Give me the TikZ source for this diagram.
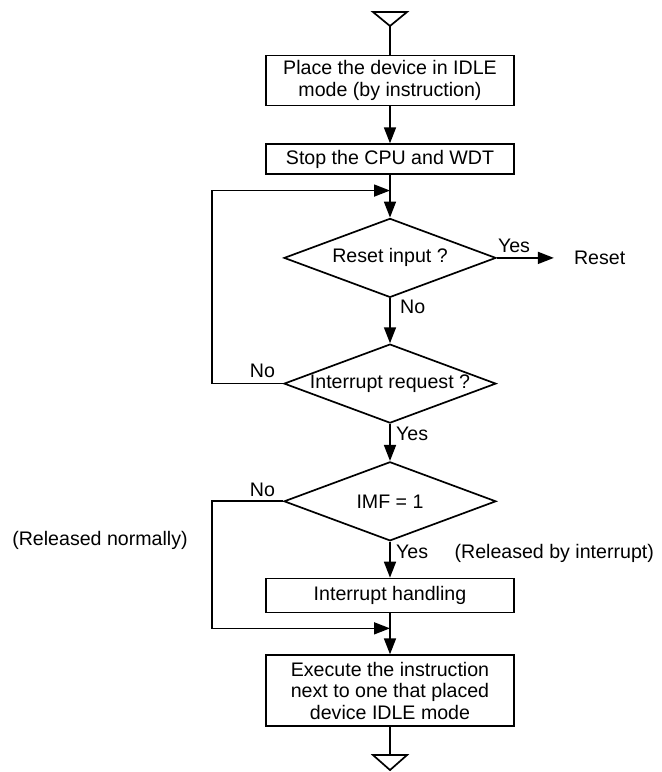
\documentclass[tikz,border=0pt]{standalone}
\usepackage{fontspec}
\setmainfont{Liberation Sans}
\usetikzlibrary{arrows.meta,shapes.geometric,positioning,calc}
\def\bw{248pt}
\def\dw{212pt}

\begin{document}
\begin{tikzpicture}
[x=1pt,y=1pt,
   font=\fontsize{19.6}{21.5}\selectfont,
   block/.style={rectangle,draw,line width=1.7pt,minimum width=\bw,inner sep=2pt,align=center},
   decision/.style={diamond,draw,line width=1.7pt,minimum width=\dw,minimum height=79pt,inner sep=0pt},
   lb/.style={inner sep=1pt},
   flow/.style={line width=1.7pt,-{Triangle[length=16pt,width=12pt]}},
   plain/.style={line width=1.7pt}]
\useasboundingbox (0,0) rectangle (662,-772);
\coordinate (in) at (390,-26);
\node[block,minimum height=50pt] (idle) at (390,-80.5) {Place the device in IDLE\\mode (by instruction)};
\node[block,minimum height=29.5pt,below=37pt of idle] (stop) {Stop the CPU and WDT};
\coordinate[below=16pt of stop] (merge1);
\node[decision,below=43pt of stop] (reset) {\makebox[0pt]{Reset input ?}};
\node[lb,right=76pt of reset] (resetout) {Reset};
\node[decision,below=45pt of reset] (intreq) {\makebox[0pt]{Interrupt request ?}};
\node[decision,below=37pt of intreq] (imf) {\makebox[0pt]{IMF = 1}};
\node[block,minimum height=34pt,below=36pt of imf] (handling) {Interrupt handling};
\coordinate[below=15pt of handling] (merge2);
\node[block,minimum height=71pt,below=41pt of handling] (exec) {Execute the instruction\\next to one that placed\\device IDLE mode};
\coordinate[below=28pt of exec] (out);

% start / end marks
\draw[plain] (in) -- ++(-17,14) -- ++(34,0) -- cycle;
\draw[plain] (out) -- ++(-17,0) -- ++(17,-15) -- ++(17,15) -- cycle;

% labels
\node[lb,anchor=south west,shift={(0,4pt)}] (yes1) at (reset.east) {Yes};
\node[lb,anchor=north west,shift={(9pt,-1pt)}] (no1) at (reset.south) {No};
\node[lb,anchor=south east,shift={(-7pt,5pt)}] (no2) at (intreq.west) {No};
\node[lb,anchor=north west,shift={(5pt,-2pt)}] (yes2) at (intreq.south) {Yes};
\node[lb,anchor=south east,shift={(-7pt,3pt)}] (no3) at (imf.west) {No};
\node[lb,anchor=north west,shift={(5pt,-2pt)}] (yes3) at (imf.south) {Yes};
\node[lb,base right=24pt of yes3] (byint) {(Released by interrupt)};
\node[lb] (normal) at (100,-540) {(Released normally)};

% flow
\draw[plain] (in) -- (idle);
\draw[flow] (idle) -- (stop);
\draw[flow] (stop) -- (reset);
\draw[flow,shorten >=19pt] (reset) -- (resetout);
\draw[flow] (reset) -- (intreq);
\draw[flow] (intreq.west) -- ++(-71,0) |- (merge1);
\draw[flow] (intreq) -- (imf);
\draw[flow] (imf) -- (handling);
\draw[flow] (imf.west) -- ++(-71,0) |- (merge2);
\draw[flow] (handling) -- (exec);
\draw[plain] (exec) -- (out);
%%
\end{tikzpicture}
\end{document}
